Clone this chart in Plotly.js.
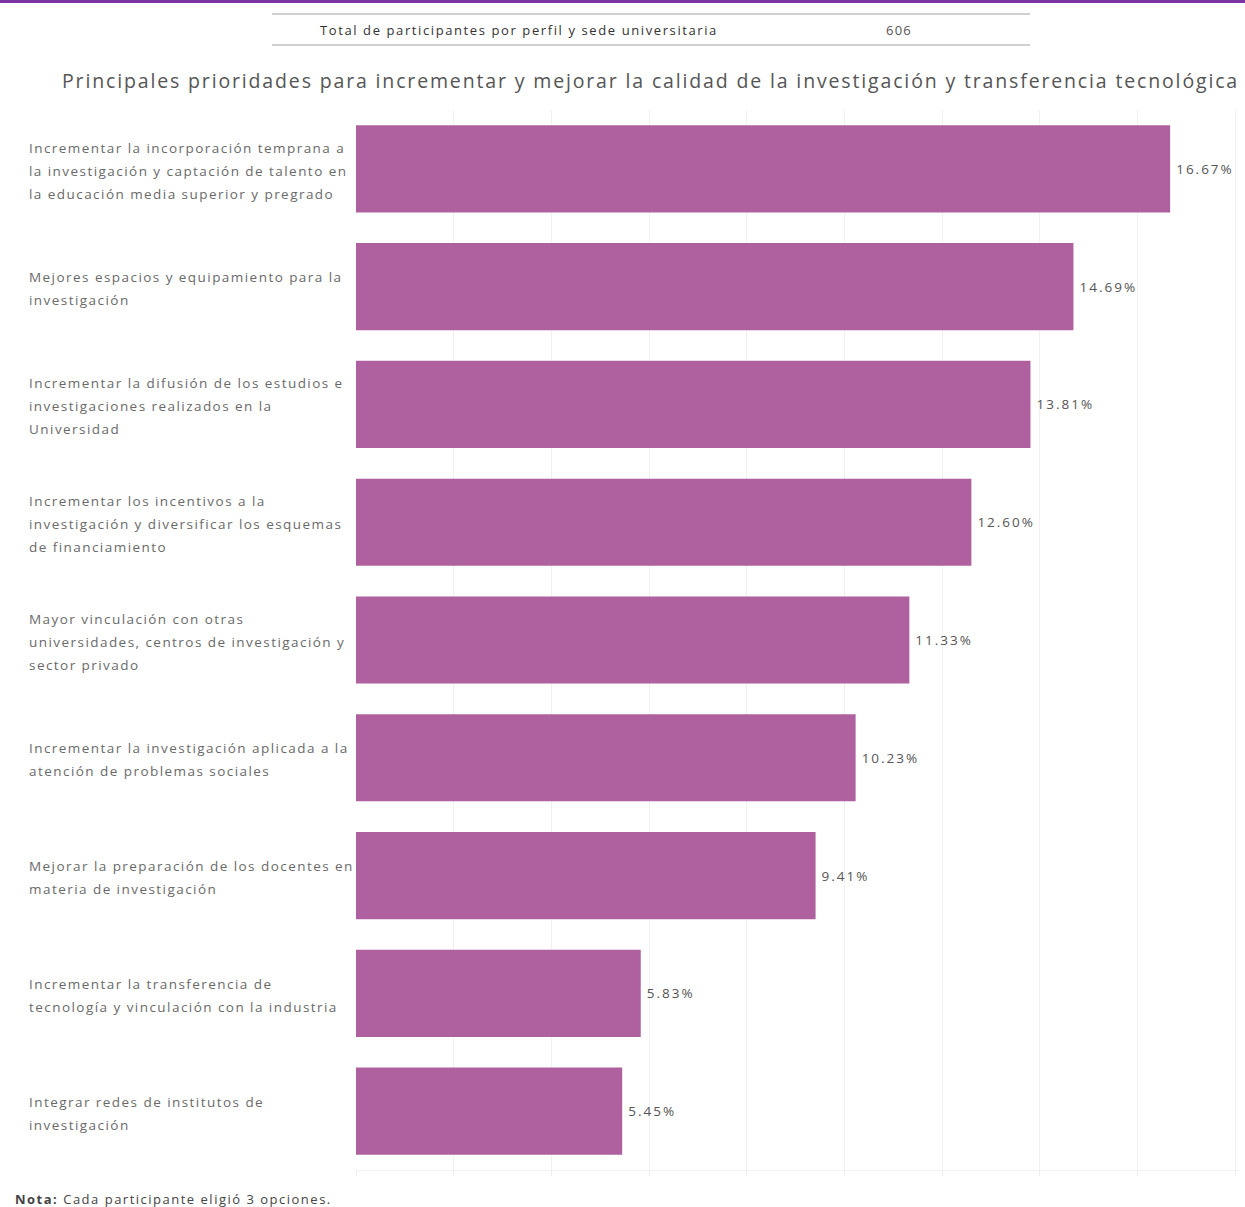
<!DOCTYPE html>
<html>
<head>
<meta charset="utf-8">
<script src="https://cdn.plot.ly/plotly-3.0.1.min.js"></script>
<style>
html,body{margin:0;padding:0;background:#fff;}
#chart{width:1245px;height:1207px;}
</style>
</head>
<body>
<div id="chart"></div>
<script>
// ---- data ----
var categories = [
  "Incrementar la incorporación temprana a<br>la investigación y captación de talento en<br>la educación media superior y pregrado",
  "Mejores espacios y equipamiento para la<br>investigación",
  "Incrementar la difusión de los estudios e<br>investigaciones realizados en la<br>Universidad",
  "Incrementar los incentivos a la<br>investigación y diversificar los esquemas<br>de financiamiento",
  "Mayor vinculación con otras<br>universidades, centros de investigación y<br>sector privado",
  "Incrementar la investigación aplicada a la<br>atención de problemas sociales",
  "Mejorar la preparación de los docentes en<br>materia de investigación",
  "Incrementar la transferencia de<br>tecnología y vinculación con la industria",
  "Integrar redes de institutos de<br>investigación"
];
var values = [16.67, 14.69, 13.81, 12.60, 11.33, 10.23, 9.41, 5.83, 5.45];
var headerLabel = "Total de participantes por perfil y sede universitaria";
var headerValue = "606";
var chartTitle = "Principales prioridades para incrementar y mejorar la calidad de la investigación y transferencia tecnológica";
var noteText = "<b>Nota:</b> Cada participante eligió 3 opciones.";
var tickVals = [0, 2, 4, 6, 8, 10, 12, 14, 16, 18];

// ---- layout geometry (pixels) ----
var W = 1245, H = 1207;
var mL = 356, mR = 5, mT = 110, mB = 37;
var plotW = W - mL - mR, plotH = H - mT - mB;
function px(xPix) { return (xPix - mL) / plotW; }
function py(yPix) { return (H - mB - yPix) / plotH; }

var FONT = "'Open Sans', 'Noto Sans', sans-serif";
var barColor = "#ae619e";

var trace = {
  type: "bar",
  orientation: "h",
  y: categories.map(function(c, i){ return i; }),
  x: values,
  marker: { color: barColor, line: { width: 0 } },
  text: values.map(function(v){ return v.toFixed(2) + "%"; }),
  textposition: "outside",
  textfont: { family: FONT, size: 13.5, color: "#555" },
  cliponaxis: false,
  hoverinfo: "none"
};

var annotations = [];
var spacing = [];
// category labels, left aligned, one annotation per line
categories.forEach(function(c, i){
  var lines = c.split("<br>");
  var n = lines.length;
  lines.forEach(function(line, j){
    annotations.push({
      xref: "paper", yref: "y",
      x: px(27), y: i,
      xanchor: "left", yanchor: "middle",
      yshift: -((j - (n - 1) / 2) * 23) - 2,
      text: line, showarrow: false, align: "left",
      font: { family: FONT, size: 13.5, color: "#6a6a6a" }
    });
    spacing.push(1.45);
  });
});
// title
annotations.push({
  xref: "paper", yref: "paper", x: px(60), y: py(81),
  xanchor: "left", yanchor: "middle", showarrow: false,
  text: chartTitle, font: { family: FONT, size: 19.5, color: "#555" }
});
spacing.push(1.85);
// header table
annotations.push({
  xref: "paper", yref: "paper", x: px(318), y: py(30),
  xanchor: "left", yanchor: "middle", showarrow: false,
  text: headerLabel, font: { family: FONT, size: 13, color: "#333" }
});
spacing.push(1.6);
annotations.push({
  xref: "paper", yref: "paper", x: px(884), y: py(30),
  xanchor: "left", yanchor: "middle", showarrow: false,
  text: headerValue, font: { family: FONT, size: 13, color: "#555" }
});
spacing.push(1.2);
// note
annotations.push({
  xref: "paper", yref: "paper", x: px(13), y: py(1199),
  xanchor: "left", yanchor: "middle", showarrow: false,
  text: noteText, font: { family: FONT, size: 13, color: "#444" }
});
spacing.push(1.5);

var shapes = [
  { type: "rect", xref: "paper", yref: "paper", x0: px(0), x1: px(W), y0: py(3), y1: py(0),
    fillcolor: "#7a35a3", line: { width: 0 } },
  { type: "line", xref: "paper", yref: "paper", x0: px(272), x1: px(1030), y0: py(14), y1: py(14),
    line: { color: "#d0d0d0", width: 2 } },
  { type: "line", xref: "paper", yref: "paper", x0: px(272), x1: px(1030), y0: py(45), y1: py(45),
    line: { color: "#d0d0d0", width: 2 } }
];

var layout = {
  width: W, height: H,
  margin: { l: mL, r: mR, t: mT, b: mB, pad: 0 },
  paper_bgcolor: "#fff", plot_bgcolor: "#fff",
  showlegend: false,
  bargap: 0.26,
  xaxis: {
    range: [0, 18.1], tickvals: tickVals, showticklabels: false,
    showgrid: true, gridcolor: "#f1f1f1", gridwidth: 1,
    zeroline: false, showline: true, linecolor: "#f1f1f1",
    ticks: "outside", ticklen: 5, tickcolor: "#eeeeee", fixedrange: true
  },
  yaxis: {
    autorange: "reversed", showticklabels: false, showgrid: false,
    zeroline: false, showline: false, ticks: "", fixedrange: true
  },
  annotations: annotations,
  shapes: shapes
};

// widen text with letter spacing while keeping its left edge in place
function spaceText(t, ls, extra) {
  var b0 = t.getBBox();
  t.style.letterSpacing = ls + "px";
  var b1 = t.getBBox();
  var dx = (b0.x - b1.x) + (extra || 0);
  if (dx) t.setAttribute("transform", (t.getAttribute("transform") || "") + " translate(" + dx + ",0)");
}

Plotly.newPlot("chart", [trace], layout, { displayModeBar: false, staticPlot: true }).then(function(gd){
  gd.querySelectorAll(".annotation").forEach(function(g){
    var idx = +g.getAttribute("data-index");
    var t = g.querySelector("text");
    if (t && spacing[idx] !== undefined) spaceText(t, spacing[idx], 0);
  });
  gd.querySelectorAll("text.bartext").forEach(function(t){
    spaceText(t, 2.0, 3);
  });
});
</script>
</body>
</html>
